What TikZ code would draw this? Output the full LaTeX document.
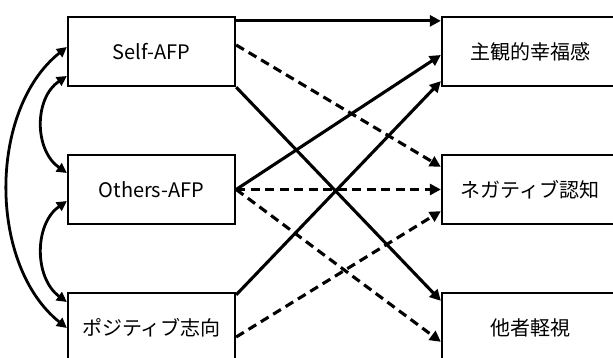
\documentclass[tikz,border=0pt]{standalone}
\usepackage{fontspec}
\setmainfont{Noto Sans CJK JP}
\usetikzlibrary{arrows.meta}
\begin{document}
\begin{tikzpicture}[x=1pt,y=-1pt,
  varbox/.style={draw=black,line width=2.3pt,minimum height=69pt,inner sep=0pt,
    font=\fontsize{20}{24}\selectfont},
  leftbox/.style={varbox,minimum width=167pt},
  rightbox/.style={varbox,minimum width=176pt},
  effect/.style={line width=3.1pt,-{Triangle[length=11pt,width=11pt]}},
  neffect/.style={effect,dash pattern=on 9pt off 5.5pt},
  corr/.style={line width=2.8pt,{Triangle[length=10pt,width=10pt]}-{Triangle[length=10pt,width=10pt]}}]
\useasboundingbox[fill=white] (0,0) rectangle (613,358);

% exogenous variables
\node[leftbox] (self)   at (151.5,51.5)  {Self-AFP};
\node[leftbox] (others) at (151.5,189.5) {Others-AFP};
\node[leftbox] (posi)   at (151.5,327.5) {ポジティブ志向};

% outcome variables
\node[rightbox] (swb)   at (530,51.5)  {主観的幸福感};
\node[rightbox] (neg)   at (530,189.5) {ネガティブ認知};
\node[rightbox] (tak)   at (530,327.5) {他者軽視};

% paths from Self-AFP
\draw[effect]  ([yshift=-5pt]self.north east) -- ([yshift=-5pt]swb.north west);
\draw[neffect] ([yshift=6.5pt]self.east) -- ([yshift=-13pt]neg.north west);
\draw[effect]  (self.south east) -- ([yshift=-9pt]tak.north west);

% paths from Others-AFP
\draw[effect]  (others.east) -- ([yshift=-3.5pt]swb.west);
\draw[neffect] (others.east) -- (neg.west);
\draw[neffect] (others.east) -- ([yshift=-50pt]tak.north west);

% paths from ポジティブ志向
\draw[effect]  ([yshift=-3pt]posi.north east) -- ([yshift=6pt]swb.south west);
\draw[neffect] ([yshift=-9.5pt]posi.east) -- ([yshift=14pt]neg.south west);

% correlations among exogenous variables
\draw[corr] ([yshift=4.5pt]self.west) .. controls (-12,110) and (-12,265) .. ([yshift=-0.5pt]posi.west);
\draw[corr] ([yshift=-24.5pt]self.west) .. controls (34,98) and (34,150) .. ([yshift=16.5pt]others.west);
\draw[corr] ([yshift=-11.5pt]others.west) .. controls (34,224) and (34,278) .. ([yshift=25.5pt]posi.west);
\end{tikzpicture}
\end{document}
